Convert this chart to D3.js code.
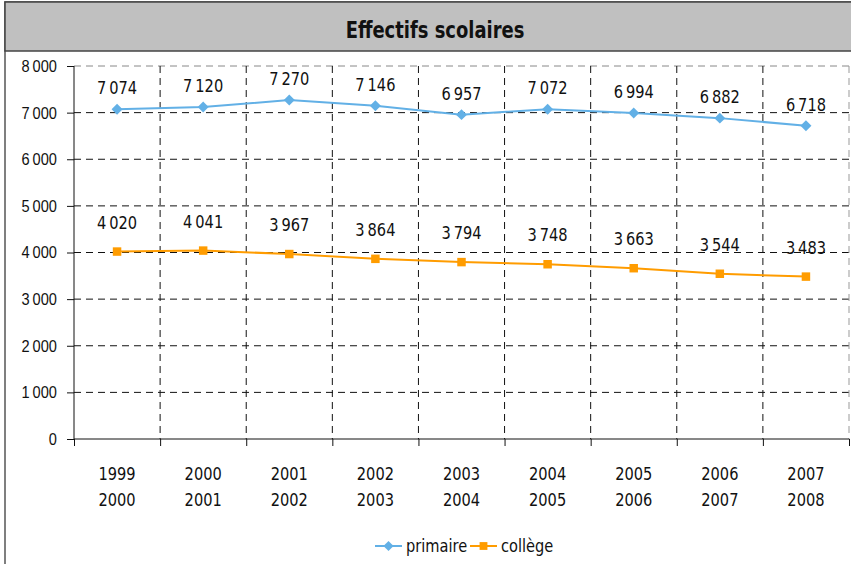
<!DOCTYPE html>
<html><head><meta charset="utf-8">
<script src="https://cdn.jsdelivr.net/npm/d3@7"></script>
<style>
body{margin:0;background:#fff;}
svg{display:block;font-family:"DejaVu Sans",sans-serif;}
</style></head><body>
<script>
const categories = [["1999","2000"],["2000","2001"],["2001","2002"],["2002","2003"],["2003","2004"],["2004","2005"],["2005","2006"],["2006","2007"],["2007","2008"]];
const primaire = [7074,7120,7270,7146,6957,7072,6994,6882,6718];
const college = [4020,4041,3967,3864,3794,3748,3663,3544,3483];
const yTicks = [0,1000,2000,3000,4000,5000,6000,7000,8000];
const title = "Effectifs scolaires";
const seriesNames = ["primaire","collège"];

const W=851,H=564;
const svg=d3.select("body").append("svg").attr("width",W).attr("height",H);
const fmt = v => d3.format(",")(v).replace(/,/g,"\u202f");
const FS=17, SX=0.86;
// narrow text: move x/y into a transform with horizontal squeeze
function condense(sel,sx){
  sel.each(function(){
    const t=d3.select(this);
    const tx=+t.attr("x")||0, ty=+t.attr("y")||0;
    t.attr("x",0).attr("y",0).attr("transform",`translate(${tx},${ty}) scale(${sx},1)`);
  });
}

// frame
svg.append("rect").attr("x",5).attr("y",2).attr("width",W).attr("height",H).attr("fill","#fff").attr("stroke","#555").attr("stroke-width",1.5);
svg.append("rect").attr("x",5).attr("y",2).attr("width",W).attr("height",49).attr("fill","#c0c0c0").attr("stroke","#444").attr("stroke-width",1.5);
svg.append("text").attr("x",435).attr("y",38).attr("text-anchor","middle").attr("font-size",23).attr("font-weight","bold").attr("fill","#111").text(title)
  .call(condense,0.78);

const L=74,R=849,T=66,B=439;
const x=d3.scaleBand().domain(d3.range(categories.length)).range([L,R]);
const y=d3.scaleLinear().domain([0,8000]).range([B,T]);

// horizontal grid
svg.append("g").selectAll("line").data(yTicks.filter(d=>d>0)).join("line")
 .attr("x1",L).attr("x2",R).attr("y1",d=>y(d)).attr("y2",d=>y(d))
 .attr("stroke",d=>d===8000?"#888":"#111").attr("stroke-width",1).attr("stroke-dasharray","7,5");
// vertical grid
svg.append("g").selectAll("line").data(d3.range(1,categories.length+1)).join("line")
 .attr("x1",i=>i<categories.length?x(i):R).attr("x2",i=>i<categories.length?x(i):R).attr("y1",T).attr("y2",B)
 .attr("stroke",i=>i===categories.length?"#999":"#111").attr("stroke-width",1).attr("stroke-dasharray","7,5");

// y axis
const yAxis=svg.append("g").attr("transform",`translate(${L},0)`)
 .call(d3.axisLeft(y).tickValues(yTicks).tickSize(7).tickFormat(fmt));
yAxis.select(".domain").attr("stroke","#111").attr("d",`M0,${B}V${T}`);
yAxis.selectAll(".tick line").attr("stroke","#111");
yAxis.selectAll(".tick text").attr("font-size",FS).attr("fill","#111").attr("x",-17).attr("font-family",null).call(condense,SX);

// x axis
const xAxis=svg.append("g").attr("transform",`translate(0,${B})`)
 .call(d3.axisBottom(d3.scaleLinear().domain([0,categories.length]).range([L,R])).tickValues(d3.range(categories.length+1)).tickSize(7).tickFormat(""));
xAxis.select(".domain").attr("stroke","#111").attr("d",`M${L},0H${R}`);
xAxis.selectAll(".tick line").attr("stroke","#111");
const xl=svg.append("g");
categories.forEach((c,i)=>{
  c.forEach((s,j)=>xl.append("text").attr("x",x(i)+x.bandwidth()/2).attr("y",480+j*26).attr("text-anchor","middle").attr("font-size",FS).attr("fill","#111").text(s));
});
xl.selectAll("text").call(condense,SX);

const cx=i=>x(i)+x.bandwidth()/2;
const line=d3.line().x((d,i)=>cx(i)).y(d=>y(d));
const series=[{name:seriesNames[0],data:primaire,color:"#62b0e6",rot:45,size:60,off:15},
              {name:seriesNames[1],data:college,color:"#ff9c00",rot:0,size:72,off:23}];
series.forEach(s=>{
  svg.append("path").datum(s.data).attr("d",line).attr("fill","none").attr("stroke",s.color).attr("stroke-width",2);
  svg.append("g").selectAll("path").data(s.data).join("path")
   .attr("transform",(d,i)=>`translate(${cx(i)},${y(d)}) rotate(${s.rot})`)
   .attr("d",d3.symbol().type(d3.symbolSquare).size(s.size)).attr("fill",s.color);
  svg.append("g").selectAll("text").data(s.data).join("text")
   .attr("x",(d,i)=>cx(i)).attr("y",d=>y(d)-s.off).attr("text-anchor","middle").attr("font-size",FS).attr("fill","#111").text(fmt)
   .call(condense,SX);
});

// legend
const leg=svg.append("g");
const lx=[375,470];
series.forEach((s,k)=>{
  leg.append("line").attr("x1",lx[k]).attr("x2",lx[k]+27).attr("y1",546).attr("y2",546).attr("stroke",s.color).attr("stroke-width",2);
  leg.append("path").attr("transform",`translate(${lx[k]+13.5},546) rotate(${s.rot})`).attr("d",d3.symbol().type(d3.symbolSquare).size(s.size*0.85)).attr("fill",s.color);
  leg.append("text").attr("x",lx[k]+31).attr("y",552).attr("font-size",FS).attr("fill","#111").text(s.name).call(condense,SX);
});
</script>
</body></html>
